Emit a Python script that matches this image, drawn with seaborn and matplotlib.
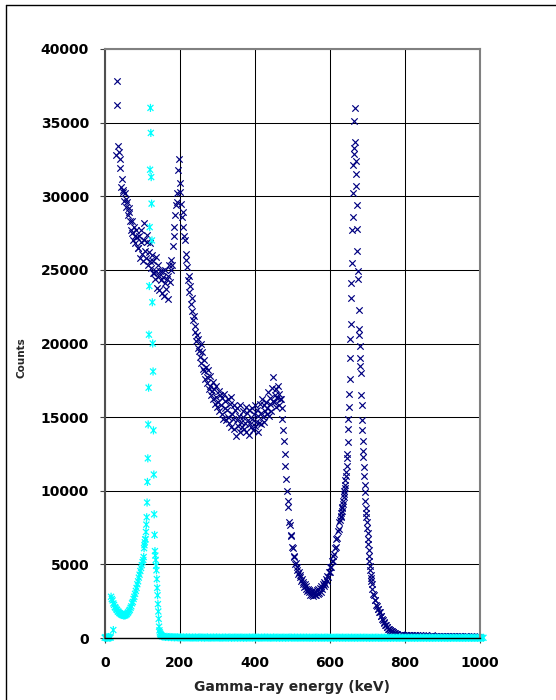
import numpy as np
import pandas as pd
import matplotlib
matplotlib.use("Agg")
import matplotlib.pyplot as plt
from matplotlib.lines import Line2D
from matplotlib.path import Path
import seaborn as sns

# ---------------------------------------------------------------------------
# Spectrum data (energy in keV, counts per channel)
# ---------------------------------------------------------------------------
# Cs-137 source: continuum / backscatter / Compton edge, 2 keV channels
cs_energy_low = np.arange(30, 629, 2)
cs_counts_low = [
    32800, 37800, 36200, 33400, 33000, 32500, 31900, 30600, 31200, 30300,
    30400, 29700, 30200, 29300, 29800, 29600, 28700, 29200, 28900, 28300,
    27700, 28300, 27500, 27000, 27900, 27300, 26800, 27700, 27200, 26500,
    26500, 27300, 25800, 26900, 27700, 26100, 25600, 27000, 28200, 26300,
    25800, 26900, 27400, 25300, 26200, 25600, 26800, 25100, 26000, 24800,
    25600, 24800, 24400, 25900, 24900, 23800, 25300, 24600, 23600, 24900,
    24300, 23400, 24900, 24500, 23200, 24100, 25000, 23700, 24400, 23000,
    24600, 25300, 24200, 25000, 25700, 25300, 26600, 27300, 27900, 28700,
    29400, 30200, 29600, 31800, 32500, 30900, 30300, 29500, 28600, 28900,
    27900, 27300, 27000, 26100, 25700, 25200, 24300, 24600, 23500, 23900,
    22700, 23100, 22200, 21600, 21900, 20800, 21200, 20200, 20600, 19700,
    20300, 19500, 19100, 20000, 18700, 19400, 18300, 18900, 18100, 17600,
    18400, 17300, 17700, 18200, 16900, 17100, 17800, 16500, 16800, 17400,
    16200, 16900, 15900, 17100, 16400, 15700, 16000, 16800, 15400, 16500,
    15800, 16300, 15200, 14900, 16600, 15600, 16100, 14800, 15500, 16200,
    15000, 14600, 15900, 16400, 14300, 15200, 14900, 15800, 14200, 15500,
    13700, 14800, 15600, 14400, 15100, 14000, 15800, 14700, 14300, 15400,
    15000, 14200, 14600, 15700, 14000, 15300, 14800, 13800, 15500, 14500,
    14300, 15600, 14900, 14100, 15200, 15800, 14400, 14700, 15500, 14000,
    15100, 14600, 15900, 15300, 14500, 16200, 15000, 14700, 15800, 15400,
    16000, 15200, 15600, 16700, 15100, 16300, 15900, 15400, 17000, 16100,
    17700, 16000, 16500, 16900, 15700, 16300, 17100, 15800, 16600, 16200,
    16200, 15600, 14900, 14100, 13400, 12500, 11700, 10800, 10000, 9300,
    8900, 7900, 7700, 7000, 6900, 6200, 6100, 5500, 5600, 5000,
    5100, 4600, 4850, 4350, 4500, 4150, 4300, 3850, 4000, 3650,
    3800, 3450, 3650, 3300, 3500, 3200, 3350, 3100, 3250, 2950,
    3150, 2900, 3200, 2850, 3150, 2900, 3200, 2950, 3250, 3000,
    3300, 3050, 3400, 3150, 3500, 3350, 3650, 3500, 3800, 3700,
    4000, 3900, 4200, 4150, 4500, 4450, 4800, 4800, 5200, 5200,
    5600, 5700, 6100, 6200, 6700, 6800, 7300, 7400, 7900, 8000,
]

# Cs-137 photopeak, 1 keV channels
cs_energy_peak = np.arange(629, 712)
cs_counts_peak = [
    8200, 8300, 8500, 8600, 8800, 8900, 9100, 9300, 9600, 9800,
    10000, 10200, 10400, 10700, 11000, 11300, 11700, 12200, 12500, 13300,
    14200, 14900, 15700, 16600, 17600, 19000, 20300, 21300, 23100, 24100,
    25500, 27700, 28600, 30200, 32100, 32900, 33300, 35100, 36000, 33700,
    32400, 31500, 30700, 29400, 27800, 26300, 24900, 24400, 22300, 21000,
    20600, 19800, 19000, 18500, 18000, 16500, 15800, 14800, 14100, 13400,
    12700, 12300, 11600, 11000, 10400, 9900, 9300, 8800, 8500, 8200,
    7900, 7500, 7100, 6700, 6400, 6000, 5600, 5200, 4900, 4600,
    4300, 4100, 3900,
]

# Cs-137 high-energy tail
cs_energy_high = np.concatenate([np.arange(712, 781, 2), np.arange(784, 1001, 4)])
cs_counts_high = [
    3700, 3350, 3000, 2900, 2600, 2550, 2250, 2200, 1950, 1950,
    1750, 1750, 1500, 1500, 1300, 1250, 1100, 1050, 900, 880,
    760, 740, 640, 620, 540, 520, 460, 450, 390, 380,
    330, 320, 290, 270, 250,
    230, 210, 240, 200, 220, 190, 210, 180, 200, 170,
    190, 170, 180, 160, 190, 150, 170, 160, 180, 150,
    160, 140, 170, 150, 160, 130, 150, 140, 160, 130,
    150, 120, 140, 130, 150, 120, 130, 110, 140, 120,
    130, 110, 120, 100, 130, 110, 120, 100, 110, 90,
    120, 100, 110, 90, 100,
]

# Co-57 source: lowest channels
co_energy_low = np.array([0, 2, 4, 6, 8, 10, 12, 14, 16, 23])
co_counts_low = [20, 60, 10, 40, 30, 70, 20, 50, 30, 540]

# Co-57 low-energy valley
co_energy_valley = np.arange(17, 103, 2)
co_counts_valley = [
    2800, 2650, 2550, 2350, 2250, 2100, 2050, 1950, 1900, 1800,
    1780, 1700, 1680, 1620, 1600, 1560, 1560, 1520, 1550, 1540,
    1600, 1620, 1700, 1750, 1850, 1920, 2050, 2150, 2350, 2450,
    2650, 2800, 3000, 3200, 3400, 3650, 3850, 4100, 4300, 4550,
    4750, 4950, 5150,
]

# Co-57 122 keV photopeak, 1 keV channels
co_energy_peak = np.arange(103, 153)
co_counts_peak = [
    5300, 5500, 6100, 6300, 6500, 6700, 6700, 7200, 7700, 8200,
    9200, 10600, 12200, 14500, 17000, 20600, 23900, 27900, 31800, 36000,
    34300, 31300, 29500, 27000, 22800, 20000, 18100, 14100, 11100, 8400,
    7000, 5900, 5600, 5300, 4900, 4600, 4000, 3400, 2900, 2300,
    1800, 1300, 770, 520, 380, 300, 240, 200, 160, 130,
]

# Co-57 tail above the photopeak
co_energy_tail = np.arange(154, 1013, 4)
co_counts_tail = [
    110, 90, 70, 80, 60, 70, 50, 60, 40, 55,
    45, 30, 50, 35, 40, 25, 45, 30, 40, 20,
    35, 25, 40, 20, 30, 45, 25, 35, 20, 30,
    40, 15, 30, 25, 35, 20, 40, 25, 30, 15,
    30, 25, 35, 20, 25, 40, 15, 30, 25, 35,
    20, 30, 25, 35, 15, 30, 20, 25, 35, 20,
    25, 35, 20, 30, 25, 15, 30, 20, 35, 25,
    30, 20, 25, 15, 35, 25, 20, 30, 15, 25,
    20, 30, 15, 25, 20, 35, 25, 15, 30, 20,
    25, 15, 30, 20, 25, 20, 30, 15, 25, 20,
    15, 25, 20, 30, 15, 20, 25, 15, 20, 30,
    20, 15, 25, 20, 15, 25, 20, 30, 15, 20,
    25, 20, 15, 25, 20, 15, 25, 20, 15, 25,
    15, 20, 25, 15, 20, 25, 15, 20, 10, 20,
    20, 15, 20, 25, 15, 10, 20, 15, 25, 15,
    15, 20, 10, 20, 15, 25, 15, 10, 20, 15,
    20, 10, 15, 20, 15, 10, 20, 15, 10, 20,
    10, 15, 20, 10, 15, 20, 10, 15, 10, 15,
    15, 10, 15, 20, 10, 15, 10, 20, 15, 10,
    10, 15, 10, 15, 20, 10, 15, 10, 15, 10,
    15, 10, 10, 15, 10, 15, 10, 10, 15, 10,
    10, 15, 10, 10, 15,
]

x_ticks = [0, 200, 400, 600, 800, 1000]
y_ticks = [0, 5000, 10000, 15000, 20000, 25000, 30000, 35000, 40000]
x_tick_labels = ["0", "200", "400", "600", "800", "1000"]
y_tick_labels = ["0", "5000", "10000", "15000", "20000", "25000", "30000", "35000", "40000"]

cs = pd.DataFrame({
    "energy": np.concatenate([cs_energy_low, cs_energy_peak, cs_energy_high]),
    "counts": np.concatenate([cs_counts_low, cs_counts_peak, cs_counts_high]),
})
co = pd.DataFrame({
    "energy": np.concatenate([co_energy_low, co_energy_valley, co_energy_peak, co_energy_tail]),
    "counts": np.concatenate([co_counts_low, co_counts_valley, co_counts_peak, co_counts_tail]),
})

# ---------------------------------------------------------------------------
# Styling
# ---------------------------------------------------------------------------
sns.set_style("white")
plt.rcParams["font.family"] = ["DejaVu Sans"]

NAVY = "#000080"
CYAN = "#00FFFF"

# asterisk-style marker: an "x" with a vertical stroke through it
star = Path(
    [(-1, -1), (1, 1), (-1, 1), (1, -1), (0, -1.35), (0, 1.35)],
    [Path.MOVETO, Path.LINETO, Path.MOVETO, Path.LINETO, Path.MOVETO, Path.LINETO],
)

fig = plt.figure(figsize=(5.56, 7.0), dpi=100)
fig.patch.set_facecolor("white")
ax = fig.add_axes([104.7 / 556, 1 - 638 / 700, 375 / 556, 589 / 700])

sns.scatterplot(data=cs, x="energy", y="counts", ax=ax, marker="x",
                color=NAVY, s=21, linewidth=0.85, legend=False)
sns.scatterplot(data=co, x="energy", y="counts", ax=ax, marker=star,
                color=CYAN, edgecolor=CYAN, facecolor="none", s=34,
                linewidth=0.9, legend=False)
for coll in ax.collections:
    coll.set_clip_on(False)

ax.set_xlim(0, 1000)
ax.set_ylim(0, 40000)
ax.set_xticks(x_ticks)
ax.set_xticklabels(x_tick_labels)
ax.set_yticks(y_ticks)
ax.set_yticklabels(y_tick_labels)

ax.grid(True, color="black", linewidth=0.75)
ax.set_axisbelow(True)

for lab in ax.get_xticklabels() + ax.get_yticklabels():
    lab.set_fontweight("bold")
    lab.set_fontsize(10)
    lab.set_color("black")

ax.tick_params(axis="both", which="major", direction="out", length=3.3,
               width=0.8, color="#404040", bottom=True, left=True)
ax.tick_params(axis="x", pad=10)
ax.tick_params(axis="y", pad=8)

ax.spines["left"].set_color("#505050")
ax.spines["left"].set_linewidth(1.5)
ax.spines["bottom"].set_color("black")
ax.spines["bottom"].set_linewidth(1.0)
for side in ("top", "right"):
    ax.spines[side].set_visible(True)
    ax.spines[side].set_color("#808080")
    ax.spines[side].set_linewidth(1.5)

ax.set_xlabel("Gamma-ray energy (keV)", fontsize=10, fontweight="bold")
ax.set_ylabel("Counts", fontsize=7.5, fontweight="bold")
ax.xaxis.set_label_coords(0.5, -(680 - 638) / 589)
ax.yaxis.set_label_coords((27 - 104.7) / 375, (638 - 357.5) / 589)

# outer chart-area frame
fig.add_artist(Line2D([5.5 / 556, 5.5 / 556], [0, 1 - 4.5 / 700],
                      transform=fig.transFigure, color="black", linewidth=1.0))
fig.add_artist(Line2D([5.5 / 556, 1], [1 - 4.5 / 700, 1 - 4.5 / 700],
                      transform=fig.transFigure, color="black", linewidth=1.0))

fig.savefig("out.png", dpi=100)
